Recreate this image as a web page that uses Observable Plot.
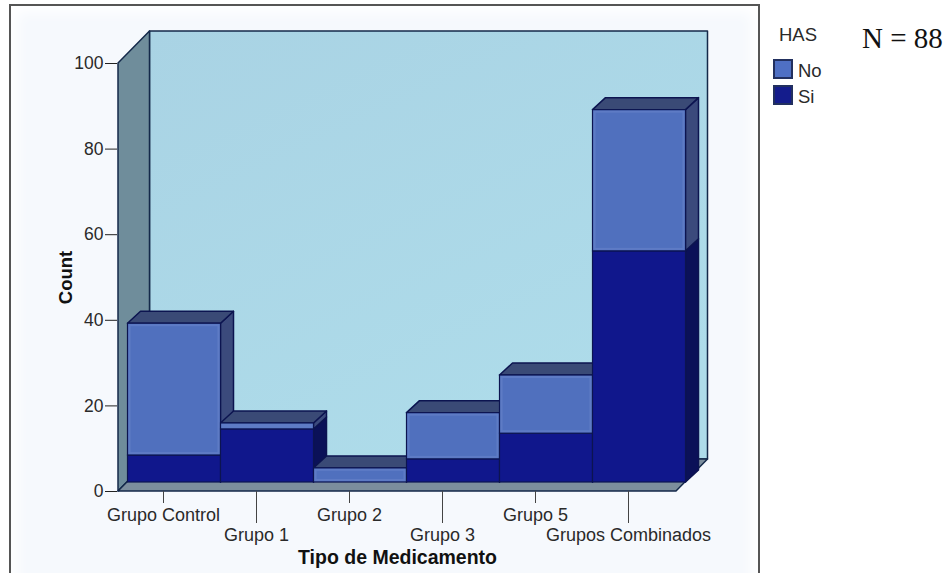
<!DOCTYPE html>
<html>
<head>
<meta charset="utf-8">
<script src="https://cdn.jsdelivr.net/npm/d3@7"></script>
<script src="https://cdn.jsdelivr.net/npm/@observablehq/plot@0.6"></script>
<style>
  html, body { margin: 0; padding: 0; background: #fff; overflow: hidden; }
  #page { position: relative; width: 952px; height: 573px; font-family: "Liberation Sans", Arial, sans-serif; color: #2a2a2a; }
  #panel { position: absolute; left: 9px; top: 4px; width: 751px; height: 590px; border: 2px solid #555; border-bottom: 0;
           background: #f6f9fd; box-shadow: inset 0 0 14px 6px #fff; box-sizing: border-box; }
  #chart { position: absolute; left: 0; top: 0; }
  #chart svg { background: none; }
  .key { position: absolute; font-size: 18.5px; line-height: 20px; }
  .swatch { position: absolute; left: 773px; width: 20px; height: 20px; box-sizing: border-box; border: 2px solid #22305f; }
  #n { position: absolute; left: 862px; top: 22px; font: 29px "Liberation Serif", "Times New Roman", serif; color: #111; white-space: nowrap; }
</style>
</head>
<body>
<div id="page">
  <div id="panel"></div>
  <div id="chart"></div>
  <div class="key" style="left:779px;top:25px">HAS</div>
  <div class="swatch" style="top:59px;background:#4f70c4"></div>
  <div class="key" style="left:798px;top:61px">No</div>
  <div class="swatch" style="top:85px;background:#141c8c"></div>
  <div class="key" style="left:798px;top:87px">Si</div>
  <div id="n">N = 88</div>
</div>
<script>
const categories = ["Grupo Control", "Grupo 1", "Grupo 2", "Grupo 3", "Grupo 5", "Grupos Combinados"];
const siCounts = [6.3, 12.4, 0, 5.4, 11.4, 54];
const noCounts = [30.8, 1.4, 3.3, 10.8, 13.6, 33];
const yTicks = [0, 20, 40, 60, 80, 100];

const leftWallColor = "#6f8d9b";
const floorColor = "#7c8e9d";
const edgeColor = "#14294a";
const noFront = "#5070be", noBevel = "#6f8ace", noSide = "#3b4a7c", noTop = "#3a4a76";
const siFront = "#10178c", siSide = "#0b1158", barEdge = "#0c1450";

// Depth of the box and of the bars, in pixels along the oblique projection.
const boxDepth = [31.5, -32];
const barShift = [9.5, -9];
const barDepth = [13, -12];

const segments = categories.flatMap((name, i) => [
  {name, order: i, series: "Si", y1: 0, y2: siCounts[i], front: siFront, side: siSide},
  {name, order: i, series: "No", y1: siCounts[i], y2: siCounts[i] + noCounts[i], front: noFront, side: noSide}
]).filter(d => d.y2 > d.y1);

const svgNs = "http://www.w3.org/2000/svg";
function poly(g, pts, fill, stroke = edgeColor) {
  const p = document.createElementNS(svgNs, "polygon");
  p.setAttribute("points", pts.map(q => q.join(",")).join(" "));
  p.setAttribute("fill", fill);
  p.setAttribute("stroke", stroke);
  p.setAttribute("stroke-width", 1.5);
  p.setAttribute("stroke-linejoin", "round");
  g.appendChild(p);
}

// Walls and floor of the oblique box, placed from the chart's scales.
function boxMark(index, {x, y}) {
  const g = document.createElementNS(svgNs, "g");
  const defs = document.createElementNS(svgNs, "defs");
  defs.innerHTML = `<linearGradient id="wall" x1="0" y1="0" x2="0.6" y2="1">
    <stop offset="0" stop-color="#a9d3e4"/><stop offset="1" stop-color="#aedcea"/></linearGradient>`;
  g.appendChild(defs);
  const x0 = x(categories[0]);
  const x1 = x(categories[categories.length - 1]) + x.bandwidth();
  const yb = y(0), yt = y(100);
  const [dx, dy] = boxDepth;
  poly(g, [[x0 + dx, yt + dy], [x1 + dx, yt + dy], [x1 + dx, yb + dy], [x0 + dx, yb + dy]], "url(#wall)");
  poly(g, [[x0, yt], [x0 + dx, yt + dy], [x0 + dx, yb + dy], [x0, yb]], leftWallColor);
  poly(g, [[x0, yb], [x0 + dx, yb + dy], [x1 + dx, yb + dy], [x1, yb]], floorColor);
  return g;
}

// Right-hand sides and tops of the bars, drawn left to right so nearer faces cover farther ones.
function barSidesMark(index, {x, y}) {
  const g = document.createElementNS(svgNs, "g");
  const [sx, sy] = barShift;
  const [dx, dy] = barDepth;
  for (const d of segments) {
    const xr = x(d.name) + x.bandwidth() + sx;
    const a = y(d.y1) + sy, b = y(d.y2) + sy;
    poly(g, [[xr, a], [xr, b], [xr + dx, b + dy], [xr + dx, a + dy]], d.side, barEdge);
    if (d.y2 === siCounts[d.order] + noCounts[d.order]) {
      const xl = x(d.name) + sx;
      poly(g, [[xl, b], [xr, b], [xr + dx, b + dy], [xl + dx, b + dy]], noTop, barEdge);
    }
  }
  return g;
}

const axisStyle = {fontSize: 17.5, fontFamily: "Liberation Sans, Arial, sans-serif"};
const xAxisStyle = {fontSize: 18, fontFamily: "Liberation Sans, Arial, sans-serif", dx: -1.5, stroke: "#444", label: null};
const titleStyle = {fontSize: 19.5, fontWeight: "bold", fill: "#111", textAnchor: "middle", fontFamily: "Liberation Sans, Arial, sans-serif"};

const chart = Plot.plot({
  width: 952,
  height: 573,
  marginLeft: 117,
  marginRight: 275,
  marginTop: 63,
  marginBottom: 82,
  style: {background: "none", color: "#2a2a2a"},
  x: {type: "band", domain: categories, padding: 0},
  y: {domain: [0, 100]},
  marks: [
    boxMark,
    barSidesMark,
    Plot.rect(segments, {
      x: "name", y1: "y1", y2: "y2", fill: "front",
      stroke: barEdge, strokeWidth: 1.2,
      dx: barShift[0], dy: barShift[1]
    }),
    // Lighter inner rim on the pale segments.
    Plot.rect(segments.filter(d => d.series === "No"), {
      x: "name", y1: "y1", y2: "y2", fill: "none", inset: 2,
      stroke: noBevel, strokeWidth: 2, strokeOpacity: 0.45,
      dx: barShift[0], dy: barShift[1]
    }),
    Plot.axisY({
      ticks: yTicks, tickSize: 12, tickPadding: 2, label: null,
      stroke: "#222", ...axisStyle
    }),
    Plot.axisX({
      ticks: categories.filter((d, i) => i % 2 === 0), tickSize: 12, tickPadding: 5, ...xAxisStyle
    }),
    Plot.axisX({
      ticks: categories.filter((d, i) => i % 2 === 1), tickSize: 32, tickPadding: 5, ...xAxisStyle
    }),
    Plot.text(["Tipo de Medicamento"], {frameAnchor: "bottom", dy: 72, ...titleStyle}),
    Plot.text(["Count"], {frameAnchor: "left", dx: -51, rotate: -90, ...titleStyle, fontSize: 18.5})
  ]
});
document.getElementById("chart").appendChild(chart);
</script>
</body>
</html>
